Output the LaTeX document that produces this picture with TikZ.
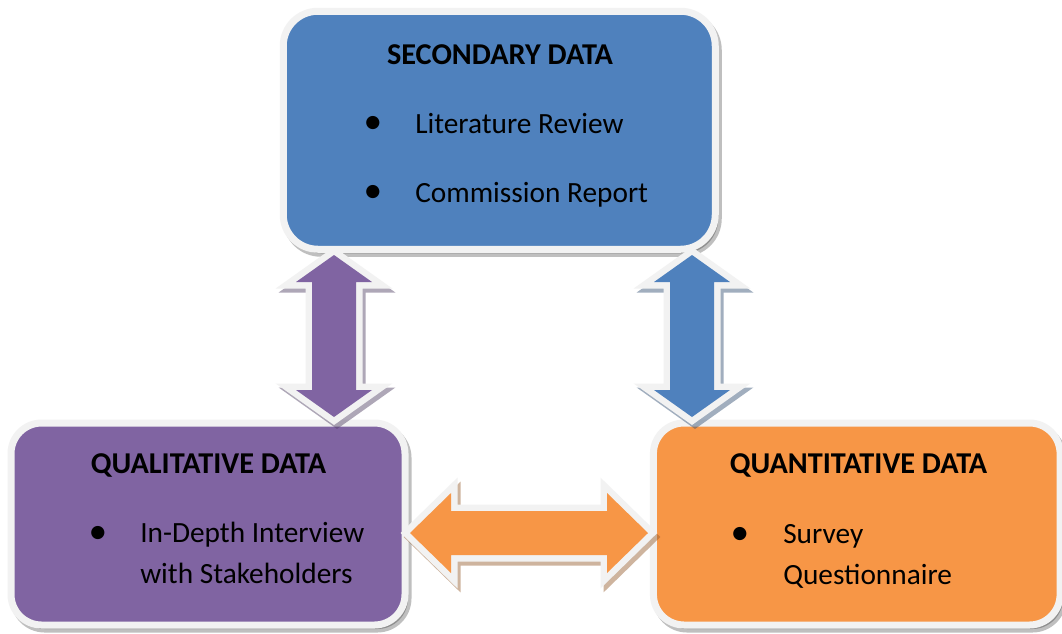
\documentclass[tikz,border=0pt]{standalone}
\usepackage{fontspec}
\setmainfont{Carlito}
\usetikzlibrary{calc}

\definecolor{secblue}{HTML}{4F81BD}
\definecolor{qualpurple}{HTML}{8064A2}
\definecolor{quanorange}{HTML}{F79646}
\definecolor{edgewhite}{HTML}{F2F2F2}

\tikzset{
  databox/.style={rounded corners=26pt, draw=edgewhite, line width=5.25pt, inner sep=0pt,
    preaction={draw=black, fill=black, opacity=.25, transform canvas={shift={(3,4)}}}},
  linkarrow/.style={fill=#1, line join=miter,
    preaction={draw=#1!60!black, fill=#1!60!black, opacity=.45, line width=9.75pt,
      transform canvas={shift={(3,4)}}},
    preaction={draw=edgewhite, line width=9.75pt}},
  heading/.style={font=\bfseries\fontsize{22.7}{28}\selectfont, anchor=base, inner sep=0pt},
  item/.style={font=\fontsize{22}{28}\selectfont, anchor=base west, inner sep=0pt},
  dot/.style={font=\fontsize{28}{28}\selectfont, inner sep=0pt}
}

\begin{document}
\begin{tikzpicture}[x=0.75pt,y=-0.75pt]
  \useasboundingbox (0,0) rectangle (1062,633);
  \fill[white] (0,0) rectangle (1062,633);

  % boxes
  \node[databox, fill=secblue, minimum width=324pt, minimum height=178.5pt] (sec) at (499.25,130.25) {};
  \node[databox, fill=qualpurple, rounded corners=23pt, minimum width=295.5pt, minimum height=151.5pt] (qual) at (208,524) {};
  \node[databox, fill=quanorange, rounded corners=23pt, minimum width=305pt, minimum height=151.5pt] (quan) at (856.75,524) {};

  % arrow tips
  \coordinate (l1) at (334,255);
  \coordinate (l2) at (334,417);
  \coordinate (r1) at (692,255);
  \coordinate (r2) at (692,417);
  \coordinate (h1) at (410,533);
  \coordinate (h2) at (648,533);

  % secondary <-> qualitative
  \fill[linkarrow=qualpurple] (l1) -- ($(l1)+(38,27)$) -- ($(l1)+(22,27)$) -- ($(l2)+(22,-27)$)
    -- ($(l2)+(38,-27)$) -- (l2) -- ($(l2)+(-38,-27)$) -- ($(l2)+(-22,-27)$)
    -- ($(l1)+(-22,27)$) -- ($(l1)+(-38,27)$) -- cycle;

  % secondary <-> quantitative
  \fill[linkarrow=secblue] (r1) -- ($(r1)+(38,27)$) -- ($(r1)+(22,27)$) -- ($(r2)+(22,-27)$)
    -- ($(r2)+(38,-27)$) -- (r2) -- ($(r2)+(-38,-27)$) -- ($(r2)+(-22,-27)$)
    -- ($(r1)+(-22,27)$) -- ($(r1)+(-38,27)$) -- cycle;

  % qualitative <-> quantitative
  \fill[linkarrow=quanorange] (h1) -- ($(h1)+(41,-40)$) -- ($(h1)+(41,-22)$) -- ($(h2)+(-41,-22)$)
    -- ($(h2)+(-41,-40)$) -- (h2) -- ($(h2)+(-41,40)$) -- ($(h2)+(-41,22)$)
    -- ($(h1)+(41,22)$) -- ($(h1)+(41,40)$) -- cycle;

  % texts
  \node[heading] (sectitle) at (500,64) {SECONDARY DATA};
  \node[dot] (secdot1) at (373,125) {•};
  \node[item] (secitem1) at (415,133) {Literature Review};
  \node[dot] (secdot2) at (373,194) {•};
  \node[item] (secitem2) at (415,202) {Commission Report};

  \node[heading] (qualtitle) at (208.5,473) {QUALITATIVE DATA};
  \node[dot] (qualdot) at (98,535) {•};
  \node[item] (qualitem1) at (140,542) {In-Depth Interview};
  \node[item] (qualitem2) at (140,583) {with Stakeholders};

  \node[heading] (quantitle) at (858.5,473) {QUANTITATIVE DATA};
  \node[dot] (quandot) at (740,536) {•};
  \node[item] (quanitem1) at (783,543) {Survey};
  \node[item] (quanitem2) at (783,584) {Questionnaire};
\end{tikzpicture}
\end{document}
